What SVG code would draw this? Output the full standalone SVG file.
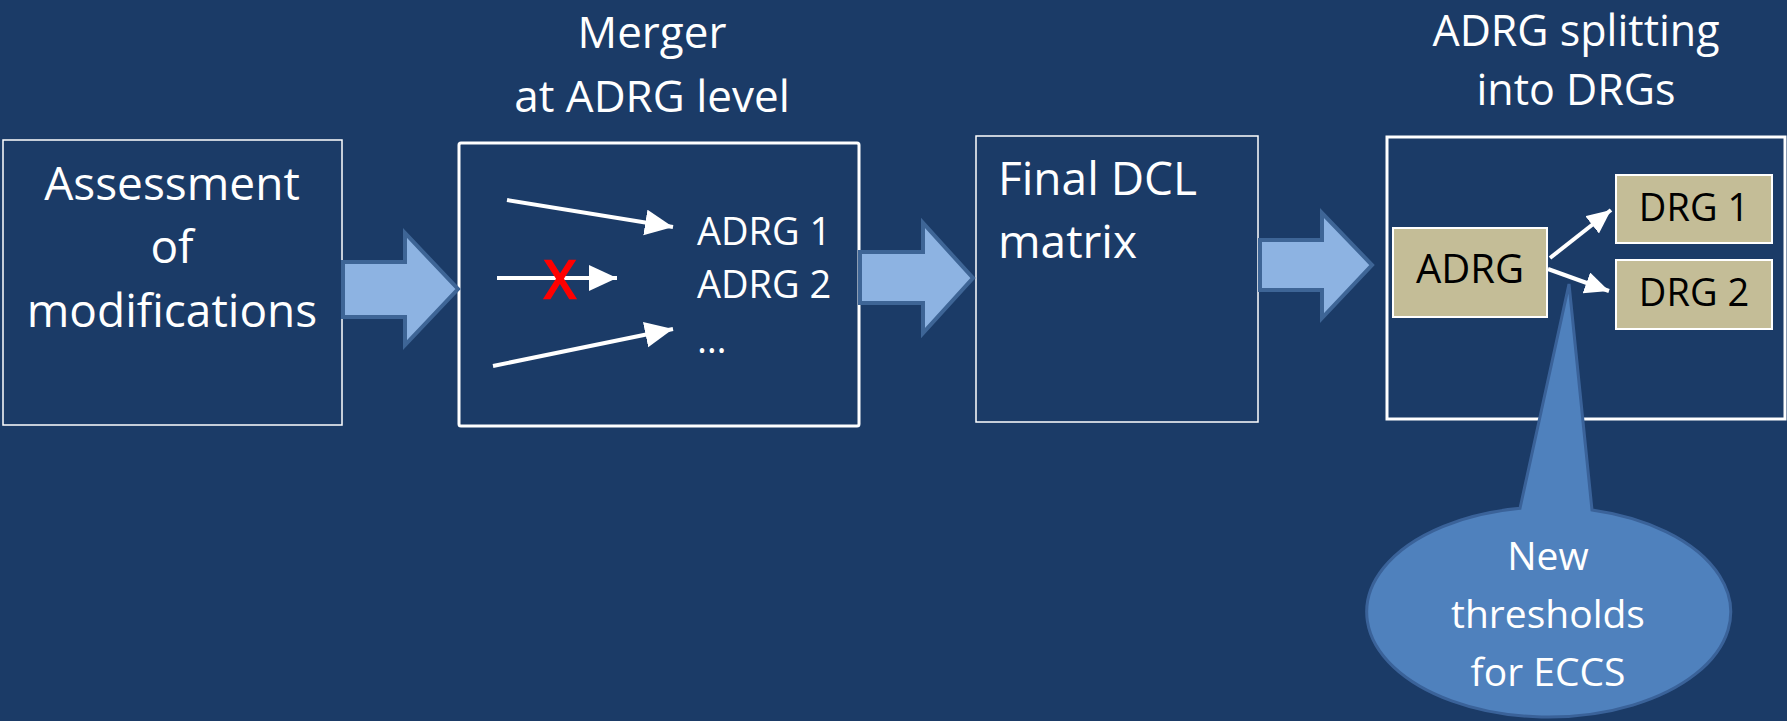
<svg xmlns="http://www.w3.org/2000/svg" width="1787" height="721" viewBox="0 0 1787 721">
<style>
.t{font-family:"Open Sans","Noto Sans",sans-serif;fill:#fff}
.k{font-family:"Open Sans","Noto Sans",sans-serif;fill:#000}
.box{fill:none;stroke:#fff}
.blk{fill:#8DB3E2;stroke:#3E6596;stroke-width:4;stroke-linejoin:miter}
.wl{stroke:#fff;stroke-width:4;fill:none}
.tan{fill:#C4BD97;stroke:#fff;stroke-width:2}
</style>
<defs>
<marker id="ah" markerUnits="userSpaceOnUse" markerWidth="30" markerHeight="28" refX="28" refY="13" orient="auto">
<path d="M0,0 L28,13 L0,26 Z" fill="#fff"/>
</marker>
<marker id="ah2" markerUnits="userSpaceOnUse" markerWidth="26" markerHeight="24" refX="24" refY="11" orient="auto">
<path d="M0,0 L24,11 L0,22 Z" fill="#fff"/>
</marker>
</defs>
<rect width="1787" height="721" fill="#1B3B67"/>

<g id="title-merger">
<text class="t" x="652" y="48" font-size="44" text-anchor="middle">Merger</text>
<text class="t" x="652" y="112" font-size="44" text-anchor="middle">at ADRG level</text>
</g>
<g id="title-split">
<text class="t" x="1576" y="46" font-size="43" text-anchor="middle">ADRG splitting</text>
<text class="t" x="1576" y="105" font-size="43" text-anchor="middle">into DRGs</text>
</g>

<g id="assessment">
<rect class="box" x="3" y="140" width="339" height="285" stroke-width="1.5"/>
<text class="t" font-size="46" text-anchor="middle"><tspan x="172" y="200">Assessment</tspan><tspan x="172" y="263">of</tspan><tspan x="172" y="327">modifications</tspan></text>
</g>

<g id="merger">
<rect class="box" x="459" y="143" width="400" height="283" rx="2" stroke-width="3"/>
<line class="wl" x1="507" y1="200" x2="673" y2="227" marker-end="url(#ah)"/>
<line class="wl" x1="497" y1="278" x2="617" y2="278" marker-end="url(#ah)"/>
<line class="wl" x1="493" y1="366" x2="673" y2="329" marker-end="url(#ah)"/>
<text x="560" y="298" font-size="52" text-anchor="middle" fill="#FF0000" stroke="#FF0000" stroke-width="2.5" font-family="Open Sans, sans-serif">X</text>
<text class="t" x="697" y="245" font-size="38">ADRG 1</text>
<text class="t" x="697" y="298" font-size="38">ADRG 2</text>
<text class="t" x="697" y="353" font-size="38">…</text>
</g>

<g id="dcl">
<rect class="box" x="976" y="136" width="282" height="286" stroke-width="1.5"/>
<text class="t" x="998" y="195" font-size="46">Final DCL</text>
<text class="t" x="998" y="258" font-size="46">matrix</text>
</g>

<g id="splitting">
<rect class="box" x="1387" y="137" width="398" height="282" stroke-width="3"/>
<g id="adrg">
<rect class="tan" x="1393" y="228" width="154" height="89"/>
<text class="k" x="1470" y="283" font-size="40" text-anchor="middle">ADRG</text>
</g>
<g id="drg1">
<rect class="tan" x="1616" y="175" width="156" height="68"/>
<text class="k" x="1694" y="221" font-size="38" text-anchor="middle">DRG 1</text>
</g>
<g id="drg2">
<rect class="tan" x="1616" y="260" width="156" height="69"/>
<text class="k" x="1694" y="306" font-size="38" text-anchor="middle">DRG 2</text>
</g>
</g>

<g id="connectors">
<path class="blk" d="M343,262 H405 V233 L458,289 L405,345 V317 H343 Z"/>
<path class="blk" d="M860,252 H923 V223 L973,278 L923,333 V303 H860 Z"/>
<path class="blk" d="M1260,240 H1322 V213 L1372,265 L1322,318 V290 H1260 Z"/>
<line class="wl" x1="1550" y1="258" x2="1611" y2="210" marker-end="url(#ah2)"/>
<line class="wl" x1="1548" y1="269" x2="1609" y2="291" marker-end="url(#ah2)"/>
</g>

<g id="callout">
<path d="M1520,508.3 L1569,284 L1592,510 A182,105 0 1 1 1520,508.3 Z" fill="#4F81BD" stroke="#3A6299" stroke-width="3" stroke-linejoin="miter"/>
<text class="t" font-size="39" text-anchor="middle"><tspan x="1548" y="570">New</tspan><tspan x="1548" y="628">thresholds</tspan><tspan x="1548" y="686">for ECCS</tspan></text>
</g>
</svg>
